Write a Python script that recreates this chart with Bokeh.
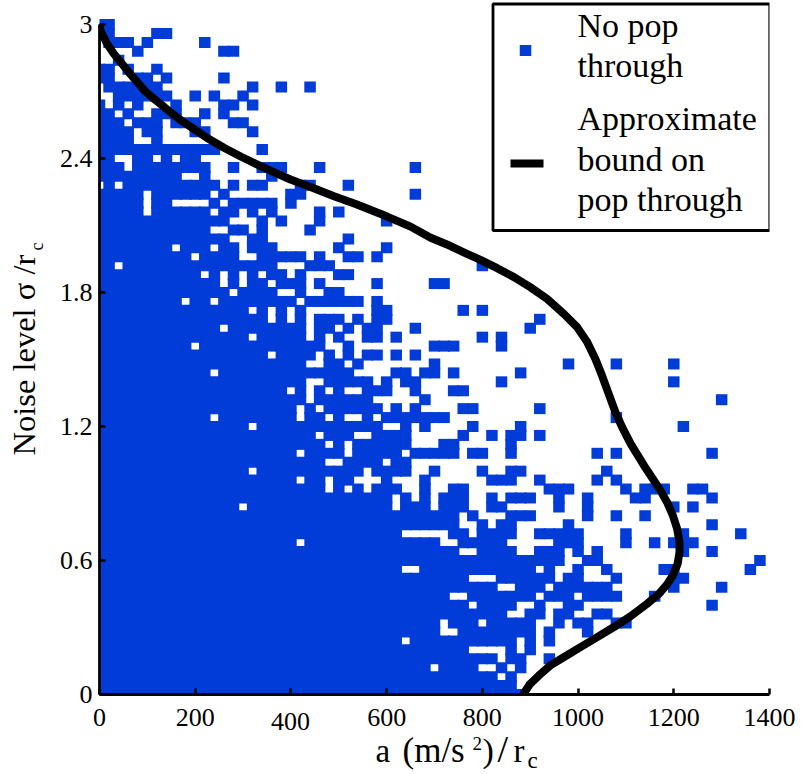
import numpy as np
from bokeh.plotting import figure
from bokeh.layouts import column
from bokeh.models import Range1d, FixedTicker, Label
from bokeh.embed import file_html
from bokeh.resources import INLINE

A_BIN = 20      # m/s^2 per grid cell
SIGMA_BIN = 0.04
# filled cells per noise row (row 0 = sigma 0), as runs of a-bin indices
no_pop_rows = [
"0-44","0-43","0-41 43","0-34 36-39 42 44","0-41 43-44 47","0-38 43 45",
"0-31 33-43 45 47","0-35 38-45 47 51","0-35 37-39 41-45 48 50-51 54-55",
"0-42 45-46 48-49 52-53","0-38 40-43 46 49-50 64","0-36 39-45 47-49 51-54 58",
"0-41 44-46 48-53 60 65","0-38 42-47 49-50 54 60-61","0-31 34-45 47 50 53 59-60 68",
"0-48 51-52 69","0-37 40-43 46-48 50 52 61 64","0-20 22-35 38-42 48-50 55 58 60-62",
"0-31 37-38 40-43 46-50 55 61 67","0-37 40 42-43 49 64","0-37 39 43-45 51 54 57",
"0-14 16-30 32-34 36-38 41-42 48 51 60 62","0-30 32 34 36-38 41 43-45 48 51 56-57 64",
"0-23 25 27 29-31 34 37-38 47-49 55 57-59 62-63","0-20 22-23 25-26 30 34 41-43 46 52 54",
"0-15 17-27 29-32 35 40 43-44 53","0-23 26-29 31-32","0-20 22-25 27-31 33-37 39-40 43 52 54 64",
"0-23 25 27-32 36-37 43","0-22 24-26 29-32 38 41 43-44 46","0-15 17-29 32 34 39 44 61",
"0-11 13-20 22-23 25 28 30-36 54","0-20 22 24-29 31 33 38-39 46","0-21 23-28 34 65",
"0-19 21 23 25 28-30 33 37-38","0-21 24-28 30 32-33 42 60","0-11 13-26 31-32 34-35 37 44",
"0-21 24-25 27 35 49 54 60","0-17 19-22 24 26 28-29 31 33","0-9 11-23 26 35-37 42",
"0-15 17-21 23 25 28-29 31 40 42","0-12 14-21 23-24 26 28-29 33 45","0-17 19 21 23-25 27 29-30 46",
"0-15 17 19 21 29-30 38 40","0-8 10-11 13-20 22-27 29","0-13 15-18 21 24-25",
"0-12 14 16-17 19-21 23 29 35-36","0-10 12 14 16 18-19 21 25-26","0-1 3-18 22-24 40",
"0-9 11-14 17-21 23 26-27 29","0-7 9-11 13-14 16-18 25 30","0-13 16-17 26","0-11 14-15 17 22",
"0-13 17 19 23 30","0-4 6-11 13-14 16 18 23 25","0-4 6-7 12 14-18 20","0-4 6-11 13 20-21 33",
"1 3-12 14 16-17 21-22 26","0-8 11 18","0-2 4-11 14 17-19 23 33","0-1 4-5 7 9-10","0-12 17",
"0-3 6","0-3 5-6 10-11 16","0-2 4-6 8-10 14-15","0-1 3 6-8 11 13","0 2 4 8 13-14 16",
"2-7 10 12 15","1-6 16 19 22","0-1 4-5 7 13","0-1 3 6","2","4 13-14","1-3 5 11","0-1 6-7","0-1",
]
bound_a = [0,2,16,30,44,61,79,96,114,131,148,173,197,225,260,295,330,364,399,441,490,538,601,650,
           692,726,761,796,831,866,900,935,970,998,1019,1036,1050,1064,1078,1092,1110,1137,
           1154,1172,1186,1198,1207,1212,1212,1208,1198,1186,1169,1144,1110,1075,1040,1005,970,
           942,918,900,885]
bound_sigma = [3.0,2.973,2.913,2.869,2.832,2.787,2.742,2.700,2.667,2.638,2.607,2.567,2.533,2.492,
               2.448,2.409,2.373,2.339,2.306,2.272,2.231,2.194,2.140,2.095,
               2.045,2.015,1.980,1.946,1.909,1.869,1.824,1.772,1.705,1.645,1.578,1.503,1.428,
               1.346,1.264,1.197,1.122,1.028,0.973,0.914,0.861,0.802,0.742,0.682,0.637,0.585,
               0.533,0.493,0.451,0.406,0.351,0.302,0.257,0.212,0.167,0.130,0.085,0.048,0.0]
x_ticks = [0,200,400,600,800,1000,1200,1400]
y_ticks = [0,0.6,1.2,1.8,2.4,3]
y_tick_labels = ["0","0.6","1.2","1.8","2.4","3"]
legend_labels = ["No pop","through","Approximate","bound on","pop through"]

BLUE = "#023cd8"
FONT = "Liberation Serif"

a_pts, s_pts = [], []
for j, row in enumerate(no_pop_rows):
    for run in row.split():
        lo, _, hi = run.partition("-")
        for i in range(int(lo), int(hi or lo) + 1):
            a_pts.append(i * A_BIN)
            s_pts.append(round(j * SIGMA_BIN, 2))

# page-pixel helpers for annotation placement (frame: left 99, right 769, bottom 694)
SX = 670 / 1400
SY = 223.33
def ax(px): return (px - 99) / SX
def sy(py): return (694 - py) / SY

p = figure(width=800, height=774, output_backend="svg", toolbar_location=None,
           x_range=Range1d(0, 1400), y_range=Range1d(0, 694 / SY),
           min_border_left=99, min_border_right=31, min_border_top=0, min_border_bottom=80,
           outline_line_color=None, background_fill_color="white")
p.grid.visible = False

p.rect(a_pts, s_pts, width=11.5, height=11, width_units="screen", height_units="screen",
       fill_color=BLUE, line_color=None)
p.line(bound_a, bound_sigma, line_color="black", line_width=8, line_join="round")

for ax_ in (p.xaxis[0], p.yaxis[0]):
    ax_.axis_line_color = "black"
    ax_.axis_line_width = 2.8
    ax_.major_tick_line_color = "black"
    ax_.major_tick_line_width = 2.5
    ax_.major_tick_in = 6
    ax_.major_tick_out = 0
    ax_.minor_tick_line_color = None
    ax_.major_label_text_font = FONT
    ax_.major_label_text_font_size = "26px"
    ax_.major_label_text_color = "black"
p.xaxis[0].ticker = FixedTicker(ticks=x_ticks)
p.yaxis[0].ticker = FixedTicker(ticks=y_ticks)
p.yaxis[0].major_label_overrides = {t: l for t, l in zip(y_ticks, y_tick_labels)}
p.xaxis[0].major_label_overrides = {t: ("" if t == 400 else str(t)) for t in x_ticks}
p.xaxis[0].major_label_standoff = 14
p.yaxis[0].major_label_standoff = 7
p.yaxis[0].bounds = (0, 3)
p.yaxis[0].major_label_orientation = "horizontal"

# y title: rotated labels in the left panel, placed with the plot's own scales
def ylab(px, py, text, size):
    p.add_layout(Label(x=ax(px - 0.46 * size), y=sy(py), text=text, text_font=FONT,
                       text_font_size=f"{size}px", text_color="black", angle=np.pi / 2,
                       text_align="left", text_baseline="alphabetic"), "left")

ylab(38, 455, "Noise level σ /r", 32.5)
ylab(45, 250, "c", 18)

# transparent text layer stacked over the chart; in a column its frame shares the chart's
# left and right edges and spans the full height, so its ranges read as page pixels
overlay = figure(width=800, height=774, output_backend="svg", toolbar_location=None,
                 x_range=Range1d(99, 769), y_range=Range1d(774, 0),
                 x_axis_location=None, y_axis_location=None,
                 min_border_left=0, min_border_right=0, min_border_top=0, min_border_bottom=0,
                 outline_line_color=None, background_fill_color=None, border_fill_color=None)
overlay.grid.visible = False
overlay.margin = (-774, 0, 0, 0)

def lab(px, py, text, size, align="left"):
    overlay.add_layout(Label(x=px, y=py - 0.35 * size, text=text, text_font=FONT,
                             text_font_size=f"{size}px", text_color="black",
                             text_align=align, text_baseline="alphabetic"))

# the 400 tick label sits a little lower in the reference
lab(290, 730.5, "400", 26, align="center")

# x title
lab(375, 762, "a", 33)
lab(402, 762, "(m/s", 35)
lab(472, 750, "2", 19)
lab(482, 762, ")", 34)
lab(497, 762, "/", 38)
lab(513, 762, "r", 33)
lab(527, 768, "c", 23)

# legend
p.quad(left=ax(492.5), right=ax(769.3), top=sy(3.5), bottom=sy(230), fill_color="white",
       line_color="black", line_width=2.8)
p.rect([ax(525)], [sy(50)], width=11.5, height=11, width_units="screen", height_units="screen",
       fill_color=BLUE, line_color=None)
p.line([ax(510), ax(543)], [sy(163), sy(163)], line_color="black", line_width=8)
for py, t in zip([37, 77, 130, 171, 211], legend_labels):
    lab(577, py, t, 34)

open("out.html", "w").write(file_html(column(p, overlay), INLINE))
